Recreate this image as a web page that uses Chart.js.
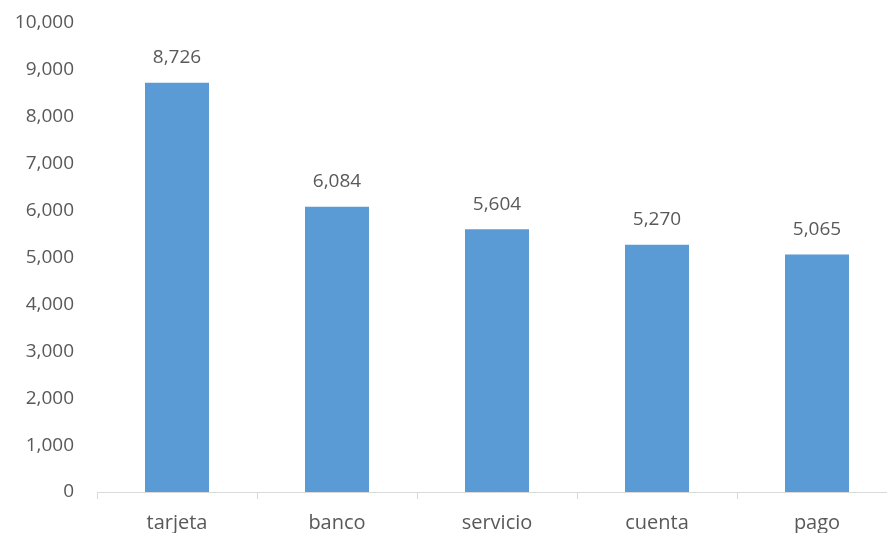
<!DOCTYPE html>
<html>
<head>
<meta charset="utf-8">
<script src="https://cdn.jsdelivr.net/npm/chart.js@4/dist/chart.umd.min.js"></script>
<style>
  html, body { margin: 0; padding: 0; background: #ffffff; overflow: hidden; }
  #wrap { position: relative; width: 897px; height: 533px; }
</style>
</head>
<body>
<div id="wrap"><canvas id="chart"></canvas></div>
<script>
// Term frequencies
const categories = ['tarjeta', 'banco', 'servicio', 'cuenta', 'pago'];
const counts = [8726, 6084, 5604, 5270, 5065];
const yTicks = [0, 1000, 2000, 3000, 4000, 5000, 6000, 7000, 8000, 9000, 10000];

const TEXT = '#595959';
const FONT = '"Open Sans", Lato, sans-serif';
const fmt = v => v.toLocaleString('en-US');

// Writes each bar's value just above it
const valueLabels = {
  id: 'valueLabels',
  afterDatasetsDraw(chart) {
    const ctx = chart.ctx;
    const meta = chart.getDatasetMeta(0);
    ctx.save();
    ctx.font = '19px ' + FONT;
    ctx.fillStyle = TEXT;
    ctx.textAlign = 'center';
    ctx.textBaseline = 'middle';
    meta.data.forEach((bar, i) => {
      ctx.fillText(fmt(counts[i]), bar.x, bar.y - 25);
    });
    ctx.restore();
  }
};

new Chart(document.getElementById('chart'), {
  type: 'bar',
  data: {
    labels: categories,
    datasets: [{
      data: counts,
      backgroundColor: '#5B9BD5',
      borderWidth: 0,
      barPercentage: 0.4,
      categoryPercentage: 1.0
    }]
  },
  options: {
    responsive: true,
    maintainAspectRatio: false,
    animation: false,
    layout: { padding: { top: 23, right: 0, bottom: 0, left: 0 } },
    plugins: { legend: { display: false }, tooltip: { enabled: false } },
    scales: {
      x: {
        grid: {
          offset: true,
          drawOnChartArea: false,
          drawTicks: true,
          tickLength: 7,
          color: '#d9d9d9',
          lineWidth: 1
        },
        border: { display: true, color: '#d9d9d9', width: 1 },
        ticks: { color: TEXT, font: { family: FONT, size: 20 }, padding: 12 },
        afterFit(scale) { scale.height = 41; }
      },
      y: {
        min: 0,
        max: 10000,
        afterBuildTicks(scale) { scale.ticks = yTicks.map(v => ({ value: v })); },
        grid: { display: false, drawTicks: false },
        border: { display: false },
        ticks: {
          color: TEXT,
          font: { family: FONT, size: 19 },
          padding: 23,
          callback: v => fmt(v)
        },
        afterFit(scale) {
          scale.width = 97;
          scale.paddingTop = 0;
          scale.paddingBottom = 0;
        }
      }
    }
  },
  plugins: [valueLabels]
});
</script>
</body>
</html>
